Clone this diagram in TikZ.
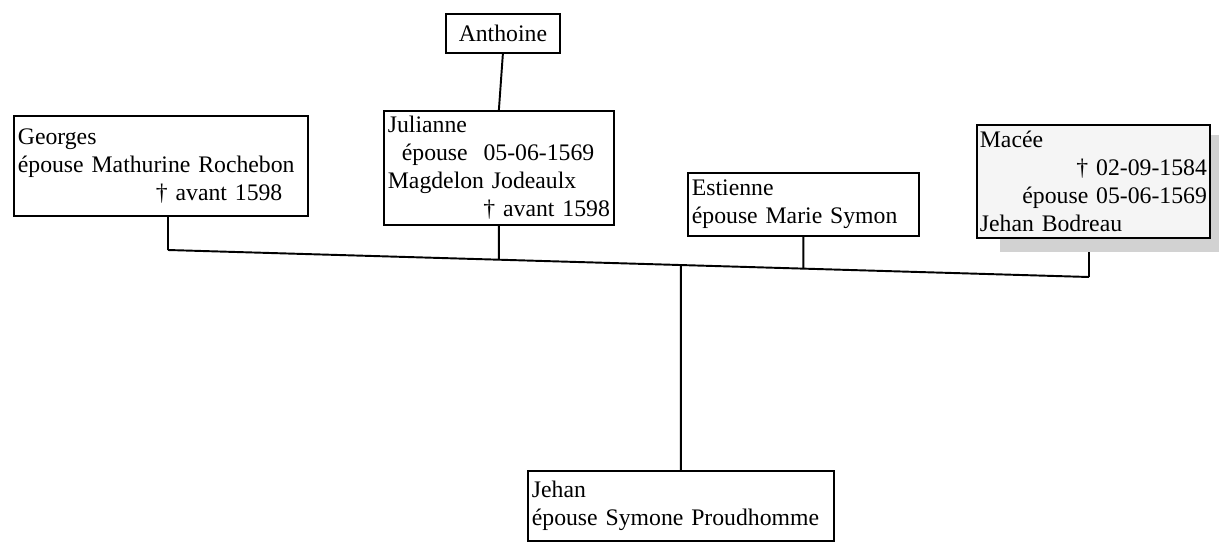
\documentclass[tikz,border=0pt]{standalone}
\usepackage{fontspec}
\setmainfont{Liberation Serif}
\usetikzlibrary{calc,backgrounds}
\newdimen\pxu \pxu=0.02cm
\newcommand\boxfont{\fontsize{13.5}{16}\selectfont}

\tikzset{
	personbox/.style={draw, line width=1pt, anchor=north west, align=left,
		font=\boxfont, inner xsep=4*\pxu, inner ysep=0pt},
	bus/.style={line width=1.1pt}
}

\begin{document}
\begin{tikzpicture}[x=0.02cm, y=-0.02cm]
	\useasboundingbox (0,0) rectangle (1219,551);
	
	% top
	\node (anthoine) [personbox, align=center, minimum width=114*\pxu, minimum height=39*\pxu] at (445,13) {Anthoine};
	
	% children
	\node (georges) [personbox, text width=286*\pxu, minimum height=100*\pxu] at (13,115)
		{Georges\\ épouse Mathurine Rochebon\\ \hspace*{138\pxu}† avant 1598};
	\node (julianne) [personbox, text width=222*\pxu, minimum height=114*\pxu] at (383,110)
		{Julianne\\ \hspace*{14\pxu}épouse\ \ 05-06-1569\\ Magdelon Jodeaulx\\ \hspace*{\fill}† avant 1598\hspace*{10\pxu}};
	\node (estienne) [personbox, text width=223*\pxu, minimum height=63*\pxu] at (687,172)
		{Estienne\\ épouse Marie Symon};
	\node (macee) [personbox, fill=gray!8, text width=227*\pxu, inner xsep=3*\pxu, minimum height=113*\pxu] at (976,124)
		{Macée\\ \hspace*{\fill}† 02-09-1584\hspace*{10\pxu}\\ \hspace*{\fill}épouse 05-06-1569\hspace*{10\pxu}\\ Jehan Bodreau};
	
	% bottom
	\node (jehan) [personbox, text width=298*\pxu, minimum height=70*\pxu] at (527,470)
		{Jehan\\ épouse Symone Proudhomme};
	
	% draw horizontal line
	\coordinate (busW) at (168,250);
	\coordinate (busE) at (1089,277);
	\draw[bus] (busW) -- (busE);
	
	% draw stems
	\draw[bus] (anthoine.south) -- (julianne.north);
	\draw[bus] (georges.south -| busW) -- (busW);
	\draw[bus] (julianne.south) -- (intersection of busW--busE and julianne.south--julianne.north);
	\draw[bus] (estienne.south) -- (intersection of busW--busE and estienne.south--estienne.north);
	\draw[bus] (intersection of busW--busE and jehan.north--jehan.south) -- (jehan.north);
	
	\begin{scope}[on background layer]
		\draw[bus] (macee.south -| busE) -- (busE);
		% shadow
		\fill[gray!35] (1000,135) rectangle (1219,252);
	\end{scope}
\end{tikzpicture}
\end{document}
